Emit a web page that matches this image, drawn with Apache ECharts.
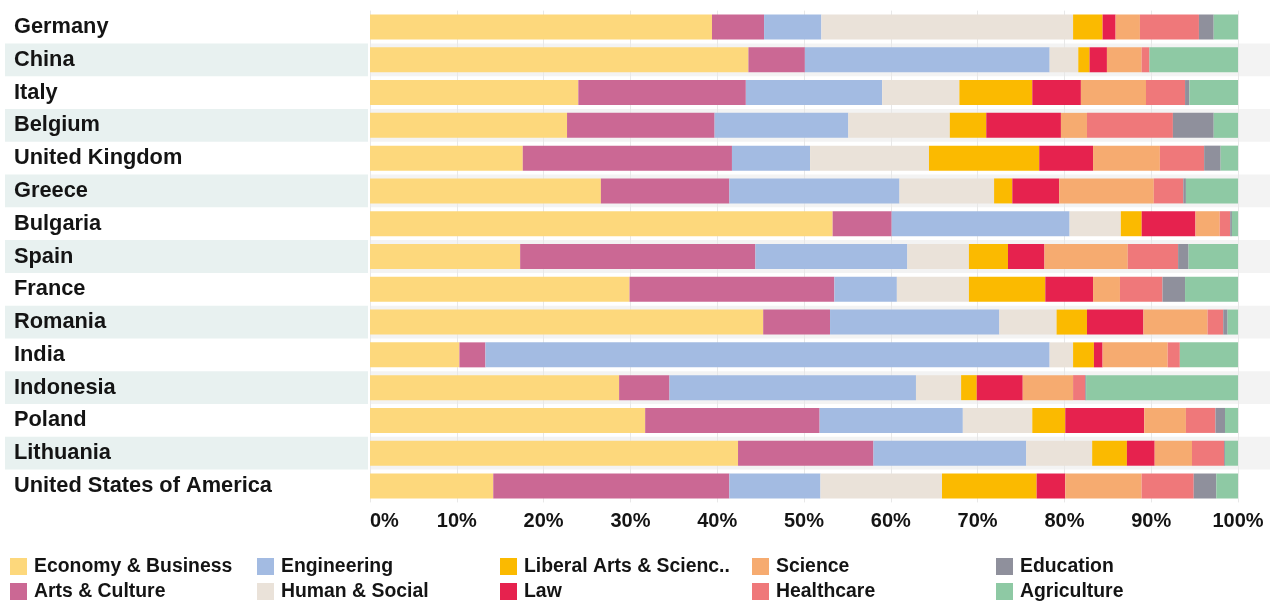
<!DOCTYPE html>
<html>
<head>
<meta charset="utf-8">
<script src="https://cdn.jsdelivr.net/npm/echarts@6/dist/echarts.min.js"></script>
<style>
html,body{margin:0;padding:0;background:#fff;}
#chart{width:1272px;height:603px;}
</style>
</head>
<body>
<div id="chart"></div>
<script>
const countries = ['Germany','China','Italy','Belgium','United Kingdom','Greece','Bulgaria','Spain','France','Romania','India','Indonesia','Poland','Lithuania','United States of America'];
const tickValues = [0,10,20,30,40,50,60,70,80,90,100];
const economy     = [39.4, 43.6, 24.0, 22.7, 17.6, 26.6, 53.3, 17.3, 29.9, 45.3, 10.3, 28.7, 31.7, 42.4, 14.2];
const arts        = [6.0, 6.5, 19.3, 17.0, 24.1, 14.8, 6.8, 27.1, 23.6, 7.7, 3.0, 5.8, 20.1, 15.6, 27.2];
const engineering = [6.6, 28.2, 15.7, 15.4, 9.0, 19.6, 20.5, 17.5, 7.2, 19.5, 65.0, 28.4, 16.5, 17.6, 10.5];
const human       = [29.0, 3.3, 8.9, 11.7, 13.7, 10.9, 5.9, 7.1, 8.3, 6.6, 2.7, 5.2, 8.0, 7.6, 14.0];
const liberal     = [3.4, 1.3, 8.4, 4.2, 12.7, 2.1, 2.4, 4.5, 8.8, 3.5, 2.4, 1.8, 3.8, 4.0, 10.9];
const law         = [1.5, 2.0, 5.6, 8.6, 6.2, 5.4, 6.2, 4.2, 5.5, 6.5, 1.0, 5.3, 9.1, 3.2, 3.3];
const science     = [2.8, 4.0, 7.5, 3.0, 7.7, 10.9, 2.8, 9.6, 3.1, 7.4, 7.5, 5.8, 4.8, 4.3, 8.8];
const healthcare  = [6.8, 0.9, 4.5, 9.9, 5.1, 3.4, 1.2, 5.8, 4.9, 1.8, 1.4, 1.4, 3.4, 3.7, 6.0];
const education   = [1.7, 0, 0.5, 4.7, 1.9, 0.3, 0.2, 1.2, 2.6, 0.5, 0, 0.1, 1.1, 0.1, 2.6];
const agriculture = [2.8, 10.2, 5.6, 2.8, 2.0, 6.0, 0.7, 5.7, 6.1, 1.2, 6.7, 17.5, 1.5, 1.5, 2.5];

const seriesNames = ['Economy & Business','Arts & Culture','Engineering','Human & Social','Liberal Arts & Sciences','Law','Science','Healthcare','Education','Agriculture'];
const seriesData = [economy, arts, engineering, human, liberal, law, science, healthcare, education, agriculture];
const colors = ['#fdd87c','#cb6894','#a3bbe2','#eae2d9','#fbba00','#e6224e','#f6ab70','#ef787a','#8f909c','#8ec9a4'];

const FONT = '"Liberation Sans", Arial, sans-serif';
const TXT = '#141414';
const TOP = 10.6, BOTTOM = 100.6;

const chart = echarts.init(document.getElementById('chart'), null, {renderer:'canvas'});

const legendCols = [10, 257, 500, 752, 996];
const legends = legendCols.map((x, i) => ({
  data: seriesNames.slice(i*2, i*2+2),
  orient: 'vertical',
  left: x,
  top: 557,
  itemWidth: 17,
  itemHeight: 17,
  itemGap: 6,
  icon: 'rect',
  selectedMode: false,
  padding: 0,
  formatter: n => n.length > 22 ? n.slice(0, 21) + '..' : n,
  textStyle: {fontFamily: FONT, fontWeight: 'bold', fontSize: 19.4, lineHeight: 18, color: TXT, padding: [0,0,0,2]}
}));

const option = {
  animation: false,
  backgroundColor: '#fff',
  color: colors,
  legend: legends,
  grid: [
    {left: 5, width: 363, top: TOP, bottom: BOTTOM},
    {left: 370, right: 34, top: TOP, bottom: BOTTOM},
    {left: 1238, right: 2, top: TOP, bottom: BOTTOM}
  ],
  xAxis: [
    {gridIndex: 0, type: 'value', show: false, min: 0, max: 100},
    {gridIndex: 1, type: 'value', min: tickValues[0], max: tickValues[tickValues.length-1], interval: 10, z: 2,
      axisLine: {show: false}, axisTick: {show: false},
      splitLine: {show: true, lineStyle: {color: '#e8e8e8', width: 1}},
      axisLabel: {formatter: '{value}%', fontFamily: FONT, fontWeight: 'bold', fontSize: 20, color: TXT, margin: 9, alignMinLabel: 'left'}
    },
    {gridIndex: 2, type: 'value', show: false, min: 0, max: 100}
  ],
  yAxis: [
    {gridIndex: 0, type: 'category', data: countries, inverse: true, z: 0,
      axisLine: {show: false}, axisTick: {show: false}, splitLine: {show: false},
      splitArea: {show: true, areaStyle: {color: ['rgba(255,255,255,0)', '#e8f1f0']}},
      axisLabel: {inside: true, margin: 9, fontFamily: FONT, fontWeight: 'bold', fontSize: 21.8, color: TXT, align: 'left', padding: [6,0,0,0]}
    },
    {gridIndex: 1, type: 'category', data: countries, inverse: true, z: 0,
      axisLine: {show: false}, axisTick: {show: false}, axisLabel: {show: false}, splitLine: {show: false},
      splitArea: {show: true, areaStyle: {color: ['rgba(255,255,255,0)', '#f3f3f3']}}
    },
    {gridIndex: 2, type: 'category', data: countries, inverse: true, z: 0,
      axisLine: {show: false}, axisTick: {show: false}, axisLabel: {show: false}, splitLine: {show: false},
      splitArea: {show: true, areaStyle: {color: ['rgba(255,255,255,0)', '#f3f3f3']}}
    }
  ],
  series: seriesNames.map((n, i) => ({
    name: n,
    type: 'bar',
    stack: 'total',
    xAxisIndex: 1,
    yAxisIndex: 1,
    barWidth: 25,
    z: 3,
    itemStyle: {color: colors[i]},
    emphasis: {disabled: true},
    data: seriesData[i]
  }))
};
chart.setOption(option);
</script>
</body>
</html>
